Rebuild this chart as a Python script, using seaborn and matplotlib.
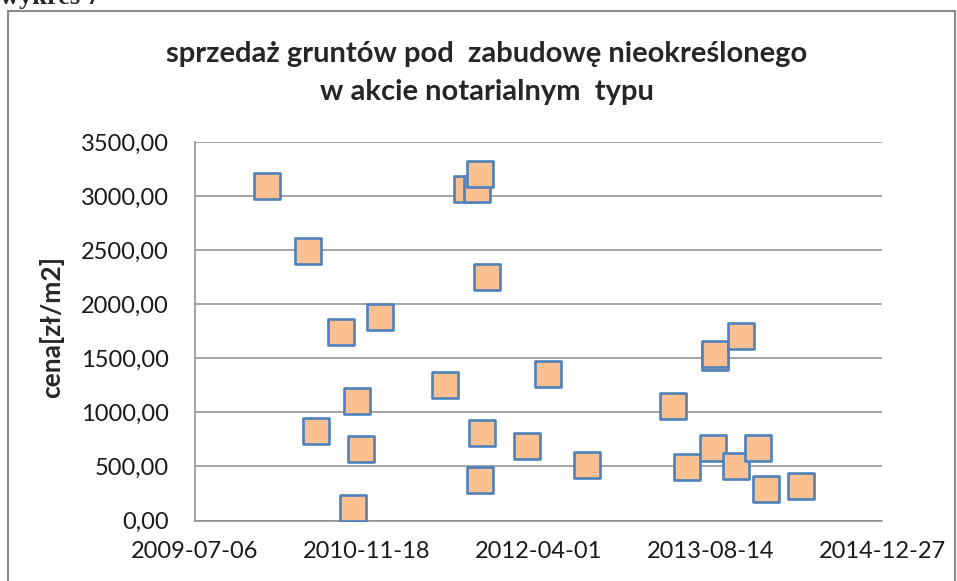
import matplotlib
matplotlib.use("Agg")
from matplotlib import pyplot as plt
from matplotlib.patches import Rectangle
import matplotlib.dates as mdates
import seaborn as sns
import pandas as pd

# daty transakcji (numery seryjne dat Excela) i ceny
sale_serial = [40210, 40329, 40351, 40426, 40460, 40471, 40482, 40538, 40728,
               40792, 40821, 40829, 40829, 40836, 40850, 40967, 41028, 41141,
               41392, 41433, 41508, 41515, 41515, 41574, 41590, 41638, 41663, 41765]
price = [3090, 2495, 828, 1746, 118, 1102, 661, 1879, 1250,
         3065, 3063, 3201, 377, 806, 2249, 686, 1357, 510,
         1056, 495, 673, 1512, 1543, 507, 1709, 673, 294, 316]
x_ticks = ['2009-07-06', '2010-11-18', '2012-04-01', '2013-08-14', '2014-12-27']
y_ticks = [0, 500, 1000, 1500, 2000, 2500, 3000, 3500]

df = pd.DataFrame({
    'data': pd.to_datetime(sale_serial, unit='D', origin='1899-12-30'),
    'cena': price,
})

sns.set_style('white')
plt.rcParams['font.family'] = ['Lato', 'DejaVu Sans']

fig = plt.figure(figsize=(9.57, 5.81), dpi=100)
ax = fig.add_axes([195 / 957, 1 - 520.5 / 581, 687 / 957, 378.5 / 581])

sns.scatterplot(data=df, x='data', y='cena', ax=ax, marker='s', s=330,
                color='#FAC090', edgecolor='#4F81BD', linewidth=1.9, zorder=3)

xt = pd.to_datetime(x_ticks)
ax.set_xlim(xt[0], xt[-1])
ax.set_xticks(xt)
ax.xaxis.set_major_formatter(mdates.DateFormatter('%Y-%m-%d'))
ax.set_ylim(0, 3500)
ax.set_yticks(y_ticks)
ax.set_yticklabels([f'{v:.2f}'.replace('.', ',') for v in y_ticks])
ax.tick_params(length=0, labelsize=17, colors='#1a1a1a')
ax.tick_params(axis='y', pad=19)
ax.tick_params(axis='x', pad=15)

ax.grid(axis='y', color='#8c8c8c', linewidth=1.1)
ax.set_axisbelow(True)
for side in ['top', 'right']:
    ax.spines[side].set_visible(False)
for side in ['left', 'bottom']:
    ax.spines[side].set_color('#8c8c8c')
    ax.spines[side].set_linewidth(1.1)

ax.set_xlabel('')
ax.set_ylabel('cena[zł/m2]', fontsize=19, fontweight='bold', labelpad=5)
ax.yaxis.set_label_coords(-0.19, 0.51)

fig.text(0.509, 0.874, 'sprzedaż gruntów pod  zabudowę nieokreślonego\nw akcie notarialnym  typu',
         ha='center', va='center', fontsize=21, fontweight='bold', linespacing=1.55)

fig.patches.append(Rectangle((8 / 957, -0.02), 947 / 957, 1.02 - 11 / 581,
                             transform=fig.transFigure, fill=False,
                             edgecolor='#8c8c8c', linewidth=1.5))
fig.text(0.0, 1 - 4 / 581, 'wykres 7', va='baseline', ha='left', fontsize=19,
         fontweight='bold', family=['Liberation Serif', 'DejaVu Serif'])

fig.savefig('out.png', dpi=100)
